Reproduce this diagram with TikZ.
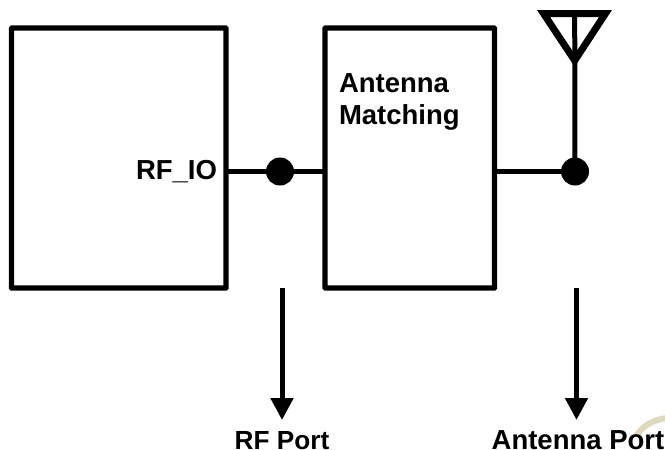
\documentclass[tikz,border=0pt]{standalone}
\usepackage{fontspec}
\setmainfont{Liberation Sans}
\usetikzlibrary{arrows.meta}
\definecolor{wmark}{RGB}{222,217,190}
\tikzset{
  wire/.style={line width=5pt,line cap=butt,draw=black},
  boxshape/.style={draw=black,line width=5.3pt,rounded corners=0.5pt,inner sep=0pt,outer sep=0pt,rectangle},
  dotshape/.style={circle,fill=black,draw=none,minimum size=28pt,inner sep=0pt,outer sep=0pt},
  lbl/.style={font=\fontsize{27.5pt}{32pt}\selectfont\bfseries,inner sep=0pt,outer sep=0pt,text=black},
  pointer/.style={line width=5pt,draw=black,-{Triangle[length=22pt,width=22pt]}}
}
\begin{document}
\begin{tikzpicture}[x=1pt,y=-1pt]
\useasboundingbox (0,0) rectangle (665,450);
\fill[white] (0,0) rectangle (665,450);
% watermark fragment
\draw[draw=wmark,line width=6pt] (668,418) .. controls (655,419) and (643,425) .. (636,436);
% blocks
\node[boxshape,minimum width=214.5pt,minimum height=260pt,anchor=north west] (chip) at (11.5,28) {};
\node[boxshape,minimum width=169.5pt,minimum height=260pt,anchor=north west] (match) at (325,28) {};
% junction dots
\node[dotshape] (d1) at (280,171.5) {};
\node[dotshape] (d2) at (575,171.5) {};
% connectors
\draw[wire] (chip.east |- d1.center) -- (d1.center) -- (match.west |- d1.center);
\draw[wire] (match.east |- d2.center) -- (d2.center);
% antenna
\coordinate (apex) at (574.7,60.5);
\coordinate (tl) at (543.5,13.5);
\coordinate (tr) at (605.5,13.5);
\coordinate (tm) at (574.7,13.5);
\draw[line width=7pt,line join=miter,miter limit=10] (tl) -- (tr) -- (apex) -- cycle;
\draw[line width=5pt] (tm) -- (d2.center);
% labels
\node[lbl,anchor=east] (rfio) at (217,171.5) {RF\_IO};
\node[lbl,align=left,anchor=north west] (am) at (339,74) {Antenna\\Matching};
\node[lbl,anchor=base] (rfp) at (282,449) {\fontsize{26.2pt}{32pt}\selectfont RF Port};
\node[lbl,anchor=base] (ap) at (578,449) {Antenna Port};
% pointers
\coordinate (p1s) at (282,288);
\coordinate (p1e) at (282,420);
\coordinate (p2s) at (576.5,288);
\coordinate (p2e) at (576.5,420);
\draw[pointer] (p1s) -- (p1e);
\draw[pointer] (p2s) -- (p2e);
\end{tikzpicture}
\end{document}
